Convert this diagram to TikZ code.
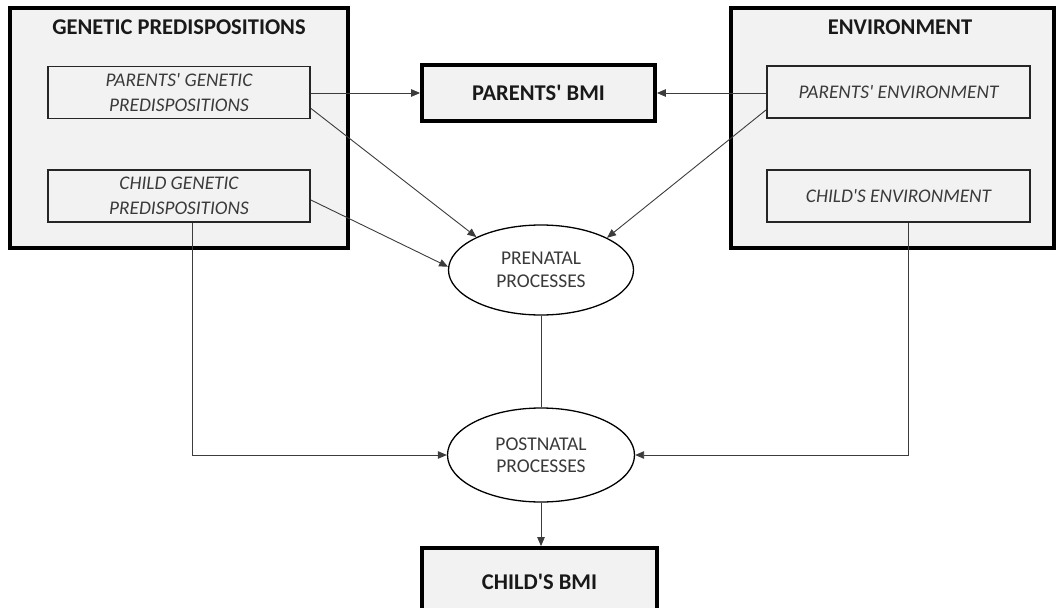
\documentclass[tikz,border=0pt]{standalone}
\usepackage{fontspec}
\setmainfont{Carlito}[Ligatures=TeXOff]
\usetikzlibrary{shapes.geometric,arrows.meta,calc}
\definecolor{boxfill}{HTML}{F2F2F2}
\definecolor{txtgray}{HTML}{3A3A3A}
\definecolor{linegray}{HTML}{3C3C3C}
\begin{document}
\begin{tikzpicture}[x=1pt,y=-1pt,
  bigbox/.style={draw=black,line width=3.8pt,fill=boxfill,inner sep=0pt},
  innerbox/.style={draw=black!85,line width=1.8pt,fill=boxfill,inner sep=0pt,
    minimum width=262pt,minimum height=52pt,align=center,text=txtgray,
    font=\fontsize{19.3}{24.5}\selectfont\itshape},
  bmibox/.style={draw=black,line width=3.8pt,fill=boxfill,inner sep=0pt,
    font=\fontsize{22.5}{26}\selectfont\bfseries,text=black!90},
  titletext/.style={font=\fontsize{22.5}{26}\selectfont\bfseries,text=black!90},
  proc/.style={ellipse,draw=black,line width=1.3pt,fill=white,inner sep=0pt,
    align=center,text=txtgray,font=\fontsize{19.5}{22.5}\selectfont},
  conn/.style={draw=linegray,line width=0.9pt},
  arr/.style={conn,-{Triangle[length=9pt,width=7.5pt]}}
]
\useasboundingbox (0,0) rectangle (1056,607);

% big group boxes
\node[bigbox,minimum width=338pt,minimum height=240pt] (gen) at (179,128) {};
\node[titletext] (gentitle) at (179,27) {GENETIC PREDISPOSITIONS};
\node[bigbox,minimum width=323pt,minimum height=240pt] (env) at (892.5,128) {};
\node[titletext] (envtitle) at (900,27) {ENVIRONMENT};

% inner boxes
\node[innerbox] (pg) at (179,92.5) {PARENTS' GENETIC\\PREDISPOSITIONS};
\node[innerbox] (cg) at (179,196) {CHILD GENETIC\\PREDISPOSITIONS};
\node[innerbox,minimum width=263pt] (pe) at (898.5,92) {PARENTS' ENVIRONMENT};
\node[innerbox,minimum width=263pt] (ce) at (898.5,196) {CHILD'S ENVIRONMENT};

% BMI boxes
\node[bmibox,minimum width=233pt,minimum height=56pt] (pbmi) at (538.5,93) {PARENTS' BMI};
\node[bmibox,minimum width=235pt,minimum height=64pt] (cbmi) at (539.5,580) {};
\node[titletext] (cbmitext) at (539.5,582) {CHILD'S BMI};

% processes
\node[proc,minimum width=185pt,minimum height=90pt] (pre) at (541,270) {PRENATAL\\PROCESSES};
\node[proc,minimum width=187pt,minimum height=94pt] (post) at (541,455) {POSTNATAL\\PROCESSES};

% corner coordinates
\coordinate (cgc) at (192,455);
\coordinate (cec) at (908,455);

% connectors
\draw[arr] (pg.east |- pbmi.west) -- (pbmi.west);
\draw[arr] (pe.west |- pbmi.east) -- (pbmi.east);
\draw[arr] ($(pg.south east)+(0,-11)$) -- (pre.153);
\draw[arr] ($(cg.east)+(0,4)$) -- (pre.178);
\draw[arr] ($(pe.south west)+(0,-9)$) -- (pre.26);
\draw[arr] (cg.south -| cgc) -- (cgc) -- (post.west);
\draw[arr] (ce.south -| cec) -- (cec) -- (post.east);
\draw[conn] (pre.south) -- (post.north);
\draw[arr] (post.south) -- (post.south |- cbmi.north);
\end{tikzpicture}
\end{document}
